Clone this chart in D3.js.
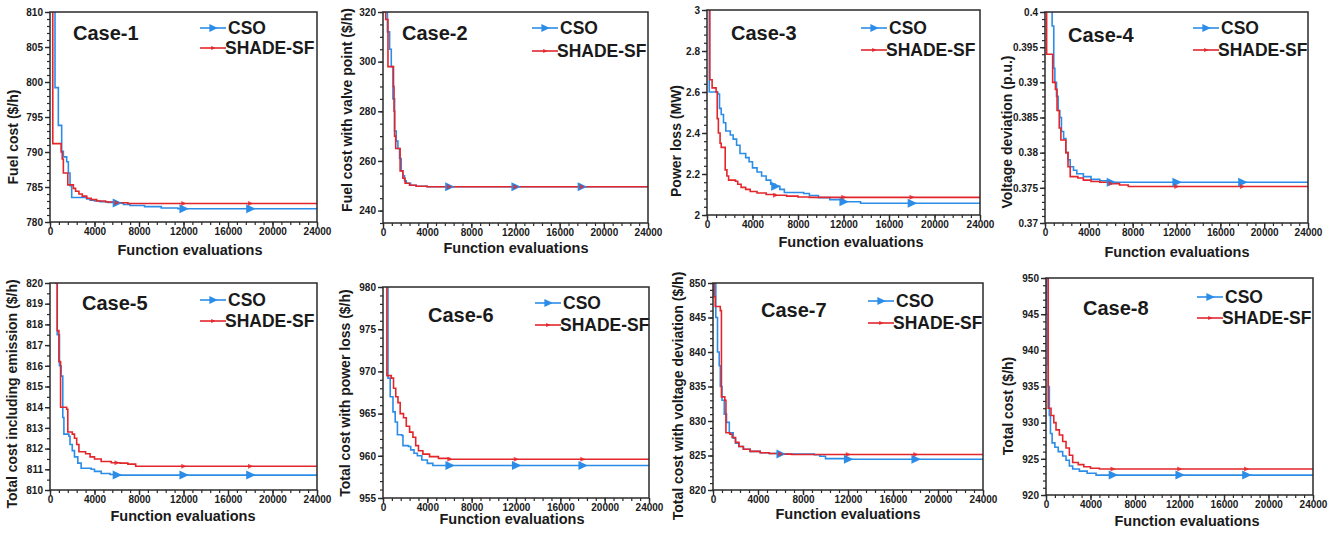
<!DOCTYPE html>
<html>
<head>
<meta charset="utf-8">
<script src="https://cdn.jsdelivr.net/npm/d3@7"></script>
<style>
  body { margin: 0; background: #fff; }
  svg text { font-family: "Liberation Sans", Arial, sans-serif; font-weight: bold; fill: #1a1a1a; }
</style>
</head>
<body>
<svg id="chart" width="1337" height="537"></svg>
<script>
// ---- data ----
const caseNames = ["Case-1", "Case-2", "Case-3", "Case-4", "Case-5", "Case-6", "Case-7", "Case-8"]
const yLabels = ["Fuel cost ($/h)", "Fuel cost with valve point ($/h)", "Power loss (MW)", "Voltage deviation (p.u.)",
  "Total cost including emission ($/h)", "Total cost with power loss ($/h)",
  "Total cost with voltage deviation ($/h)", "Total cost ($/h)"]
const xLabel = "Function evaluations"
const seriesNames = ["CSO", "SHADE-SF"]
const xTicks = [0, 4000, 8000, 12000, 16000, 20000, 24000]
const markerX = [6000, 12000, 18000]
const yDomains = [[780, 810], [235, 320], [2, 3], [0.37, 0.4], [810, 820], [955, 980], [820, 850], [920, 950]]
const yTickStart = [780, 240, 2, 0.37, 810, 955, 820, 920]
const yTickStep = [5, 20, 0.2, 0.005, 1, 5, 5, 5]
const yMinorStep = [1, 5, 0.04, 0.001, 0.5, 1, 1, 1]

const cso1 = [[0,815],[450,799.2],[750,793.8],[1050,790.1],[1200,789.3],[1500,788.6],[1650,787],[1800,785.2],[1950,783.5],[3300,783.3],[3600,783.1],[4000,783.0],[4500,782.9],[5200,782.8],[6000,782.7],[6600,782.5],[7200,782.35],[8500,782.2],[10000,782.0],[11500,781.9],[24000,781.9]]
const shade1 = [[0,815],[250,791.2],[1000,790],[1100,789],[1200,787],[1600,785.3],[2100,784.8],[2300,784.4],[2600,784],[2900,783.7],[3300,783.4],[3700,783.2],[4200,783.0],[5000,782.85],[6000,782.75],[7000,782.65],[24000,782.6]]
const cso2 = [[0,330],[400,312],[600,305],[750,298],[900,285],[1050,272],[1200,268],[1350,265],[1500,261],[1650,256],[1800,254],[1950,252],[2100,251],[2500,250.2],[3000,249.8],[4000,249.6],[24000,249.6]]
const shade2 = [[0,320],[250,317],[450,298],[900,298],[950,290],[1000,280],[1050,270],[1150,265],[1550,256],[1800,253],[2000,251],[2400,250.2],[3000,249.8],[4000,249.6],[24000,249.6]]
const cso3 = [[0,3.05],[200,2.6],[950,2.59],[1100,2.52],[1250,2.49],[1450,2.45],[1650,2.41],[2050,2.39],[2300,2.37],[2600,2.34],[2900,2.3],[3400,2.28],[3700,2.26],[4000,2.23],[4400,2.21],[4800,2.19],[5200,2.17],[5600,2.15],[6000,2.14],[6400,2.125],[6800,2.11],[8500,2.105],[9000,2.095],[9800,2.085],[10800,2.075],[12000,2.065],[13500,2.057],[24000,2.057]]
const shade3 = [[0,3.05],[250,2.66],[450,2.62],[800,2.6],[900,2.47],[1000,2.4],[1150,2.35],[1250,2.33],[1600,2.22],[1750,2.19],[1900,2.17],[2500,2.165],[2700,2.15],[3000,2.135],[3400,2.125],[3800,2.115],[4400,2.107],[5200,2.1],[6000,2.096],[7000,2.092],[8000,2.088],[9000,2.086],[24000,2.086]]
const cso4 = [[0,0.41],[650,0.398],[800,0.392],[900,0.39],[1050,0.388],[1200,0.386],[1350,0.385],[1500,0.383],[1700,0.382],[1900,0.38],[2100,0.379],[2300,0.378],[2600,0.3775],[2900,0.377],[3500,0.3766],[4200,0.3762],[5000,0.376],[6000,0.3758],[24000,0.3758]]
const shade4 = [[0,0.4],[150,0.394],[600,0.394],[700,0.39],[950,0.389],[1100,0.386],[1300,0.3835],[1450,0.3818],[1900,0.38],[2100,0.378],[2300,0.3766],[3000,0.3764],[3500,0.3761],[4200,0.3759],[5000,0.3758],[6000,0.3756],[6800,0.3754],[7600,0.3752],[24000,0.3752]]
const cso5 = [[0,821],[650,817.5],[850,816],[1000,815.5],[1150,813.5],[1250,812.7],[1700,812.6],[1800,812.2],[2000,811.9],[2200,811.6],[2500,811.3],[2800,811.05],[3700,811.0],[4000,810.9],[4600,810.8],[5400,810.75],[6000,810.72],[24000,810.72]]
const shade5 = [[0,821],[500,820],[650,817.7],[800,816.2],[950,814],[1500,813.9],[1600,812.8],[2000,812.7],[2200,812.5],[2400,812.2],[2600,811.85],[3200,811.75],[3600,811.6],[4000,811.5],[4600,811.38],[5500,811.32],[6300,811.3],[7000,811.25],[7700,811.15],[24000,811.15]]
const cso6 = [[0,985],[450,969.2],[650,967],[900,965.2],[1100,964],[1300,962.5],[1700,962.4],[1800,961.2],[2300,961.1],[2500,960.7],[2800,960.3],[3100,960],[3500,959.5],[4000,959.1],[4500,958.85],[24000,958.75]]
const shade6 = [[0,981],[350,969.5],[750,969.2],[950,968],[1150,967],[1350,966.3],[1550,965],[1850,964.5],[2100,963.5],[2400,962.8],[2700,962.2],[2950,961.2],[3200,960.6],[3600,960.2],[4200,959.9],[5000,959.7],[6000,959.6],[24000,959.55]]
const cso7 = [[0,851],[150,850],[250,845],[400,840],[550,838],[650,835],[800,833],[1000,831],[1200,829.8],[1450,828.3],[1800,827.5],[2000,826.8],[2300,826.3],[2700,825.9],[3300,825.6],[4200,825.4],[5000,825.3],[6000,825.2],[9000,825.1],[9500,824.9],[10000,824.55],[12000,824.45],[24000,824.45]]
const shade7 = [[0,850],[100,848],[200,846.6],[650,846],[750,833.5],[1050,833],[1150,828.3],[1500,828.1],[1700,827.6],[2000,826.9],[2300,826.3],[2700,825.9],[3300,825.6],[4200,825.4],[5000,825.3],[6000,825.2],[7000,825.15],[24000,825.1]]
const cso8 = [[0,951],[80,945],[150,938],[200,935],[300,931],[400,928.5],[550,927.2],[800,926.6],[1100,926],[1500,925.4],[1800,924.8],[2100,924],[2400,923.6],[3000,923.3],[3700,923],[4500,922.75],[24000,922.7]]
const shade8 = [[0,951],[150,950],[200,932],[450,931],[700,930],[900,929],[1200,928.3],[1500,927.4],[1800,926.5],[2100,925.5],[2400,924.5],[2900,924.2],[3400,923.9],[4000,923.7],[4800,923.6],[24000,923.6]]

const csoSeries = [cso1, cso2, cso3, cso4, cso5, cso6, cso7, cso8]
const shadeSeries = [shade1, shade2, shade3, shade4, shade5, shade6, shade7, shade8]

// ---- layout (pixel boxes of each panel) ----
const boxes = [[50,12,317,222],[383,12,648,223],[707,10,980,215],[1045,12,1308,223],
  [50,283,317,490],[383,287,649,498],[713,283,983,490],[1046,278,1313,495]]
const titlePos = [[73,33],[402,33],[731,33],[1068,35],[82,303],[428,315],[761,310],[1083,308]]
const legendPos = [[200,28,48],[532,28,51],[861,28,50],[1193,28,50],[200,300,321],[535,303,325],[868,301,323],[1197,297,318]]
const yLabelPos = [[13,137],[347,110],[676,141],[1007,132],[12,394],[345,393],[678,396],[1008,406]]
const xLabelPos = [[190,250],[516,248],[851,242],[1177,252],[183,516],[512,519],[848,514],[1187,521]]

const blue = "#2b8de8"
const red = "#e3262b"
const axisColor = "#2a2a2a"

const svg = d3.select("#chart")

const triangle = (s) => `M${-s*0.45},${-s*0.5}L${s*0.6},0L${-s*0.45},${s*0.5}Z`

function valueAt(data, x) {
  let i = d3.bisector(d => d[0]).right(data, x) - 1
  return data[Math.max(0, i)][1]
}

function fmt(d) {
  return String(+d.toFixed(4))
}

caseNames.forEach((name, i) => {
  const [x0, y0, x1, y1] = boxes[i]
  const g = svg.append("g")

  const x = d3.scaleLinear().domain([0, 24000]).range([x0, x1])
  const y = d3.scaleLinear().domain(yDomains[i]).range([y1, y0])

  // clip
  g.append("clipPath").attr("id", "clip" + i)
    .append("rect").attr("x", x0).attr("y", y0).attr("width", x1 - x0).attr("height", y1 - y0)

  // minor ticks
  const yMajor = d3.range(yTickStart[i], yDomains[i][1] + yTickStep[i] * 0.01, yTickStep[i])
  const yMinor = d3.range(yDomains[i][0], yDomains[i][1] + yMinorStep[i] * 0.01, yMinorStep[i])
  const xMinor = d3.range(0, 24001, 800)

  g.append("g").attr("transform", `translate(${x0},0)`)
    .call(d3.axisLeft(y).tickValues(yMinor).tickSize(3).tickFormat(""))
    .call(a => a.select(".domain").remove())
    .call(a => a.selectAll("line").attr("stroke", axisColor).attr("stroke-width", 1.2))
  g.append("g").attr("transform", `translate(0,${y1})`)
    .call(d3.axisBottom(x).tickValues(xMinor).tickSize(3).tickFormat(""))
    .call(a => a.select(".domain").remove())
    .call(a => a.selectAll("line").attr("stroke", axisColor).attr("stroke-width", 1.2))

  // major axes
  g.append("g").attr("transform", `translate(${x0},0)`)
    .call(d3.axisLeft(y).tickValues(yMajor).tickSize(5).tickPadding(2).tickFormat(fmt))
    .call(a => a.select(".domain").remove())
    .call(a => a.selectAll("line").attr("stroke", axisColor).attr("stroke-width", 1.4))
    .call(a => a.selectAll("text").style("font-size", "10px").style("font-family", null).attr("fill", "#1a1a1a"))
  g.append("g").attr("transform", `translate(0,${y1})`)
    .call(d3.axisBottom(x).tickValues(xTicks).tickSize(5).tickPadding(1).tickFormat(d3.format("d")))
    .call(a => a.select(".domain").remove())
    .call(a => a.selectAll("line").attr("stroke", axisColor).attr("stroke-width", 1.4))
    .call(a => a.selectAll("text").style("font-size", "10px").style("font-family", null).attr("fill", "#1a1a1a"))

  const line = d3.line().x(d => x(d[0])).y(d => y(d[1])).curve(d3.curveStepAfter)
  const plot = g.append("g").attr("clip-path", `url(#clip${i})`)

  plot.append("path").datum(csoSeries[i])
    .attr("d", line).attr("fill", "none").attr("stroke", blue).attr("stroke-width", 1.6)
  plot.append("path").datum(shadeSeries[i])
    .attr("d", line).attr("fill", "none").attr("stroke", red).attr("stroke-width", 1.6)

  plot.selectAll(".mk-cso").data(markerX).enter().append("path")
    .attr("class", "mk-cso")
    .attr("transform", d => `translate(${x(d)},${y(valueAt(csoSeries[i], d))})`)
    .attr("d", triangle(9)).attr("fill", blue)
  plot.selectAll(".mk-shade").data(markerX).enter().append("path")
    .attr("class", "mk-shade")
    .attr("transform", d => `translate(${x(d)},${y(valueAt(shadeSeries[i], d))})`)
    .attr("d", triangle(5)).attr("fill", red).attr("opacity", 0.8)

  // frame
  g.append("rect").attr("x", x0).attr("y", y0).attr("width", x1 - x0).attr("height", y1 - y0)
    .attr("fill", "none").attr("stroke", axisColor).attr("stroke-width", 1.5)

  // texts
  g.append("text").attr("x", titlePos[i][0]).attr("y", titlePos[i][1]).attr("dy", "0.35em")
    .style("font-size", "20px").text(name)

  g.append("text")
    .attr("transform", `translate(${yLabelPos[i][0]},${yLabelPos[i][1]}) rotate(-90)`)
    .attr("text-anchor", "middle").attr("dy", "0.35em")
    .style("font-size", "14px").text(yLabels[i])

  g.append("text").attr("x", xLabelPos[i][0]).attr("y", xLabelPos[i][1]).attr("dy", "0.35em")
    .attr("text-anchor", "middle").style("font-size", "14.5px").text(xLabel)

  // legend
  const [lx, ly1, ly2] = legendPos[i]
  g.append("line").attr("x1", lx).attr("x2", lx + 26).attr("y1", ly1).attr("y2", ly1)
    .attr("stroke", blue).attr("stroke-width", 1.6)
  g.append("path").attr("transform", `translate(${lx + 13},${ly1})`).attr("d", triangle(8)).attr("fill", blue)
  g.append("text").attr("x", lx + 28).attr("y", ly1).attr("dy", "0.35em")
    .style("font-size", "17.5px").text(seriesNames[0])
  g.append("line").attr("x1", lx).attr("x2", lx + 26).attr("y1", ly2).attr("y2", ly2)
    .attr("stroke", red).attr("stroke-width", 1.6)
  g.append("path").attr("transform", `translate(${lx + 13},${ly2})`).attr("d", triangle(4)).attr("fill", red)
  g.append("text").attr("x", lx + 25).attr("y", ly2).attr("dy", "0.35em")
    .style("font-size", "17.5px").text(seriesNames[1])
})
</script>
</body>
</html>
